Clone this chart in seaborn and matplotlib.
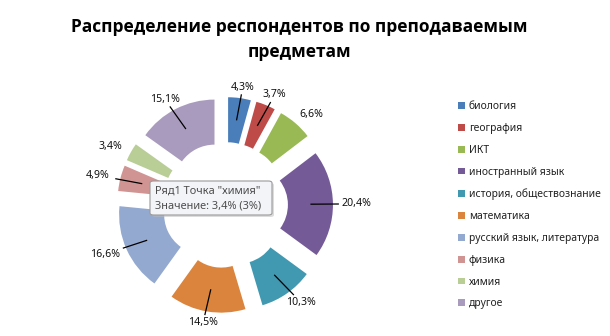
import numpy as np
import matplotlib
matplotlib.use("Agg")
import matplotlib.pyplot as plt
import seaborn as sns
from matplotlib.patches import FancyBboxPatch

# ---------------- data ----------------
title_text = "Распределение респондентов по преподаваемым\nпредметам"
categories = ["биология", "география", "ИКТ", "иностранный язык",
              "история, обществознание", "математика",
              "русский язык, литература", "физика", "химия", "другое"]
values = [4.3, 3.7, 6.6, 20.4, 10.3, 14.5, 16.6, 4.9, 3.4, 15.1]
value_labels = [f"{v:.1f}%".replace(".", ",") for v in values]
palette_hex = ["#4A7EBB", "#BE4B48", "#98B954", "#755A98", "#4199B1",
               "#DB843D", "#93A9D0", "#D09493", "#B9CD96", "#A99BBD"]
tooltip_lines = ['Ряд1 Точка "химия"', "Значение: 3,4% (3%)"]
# labels that sit close to their slice and have no leader line
no_leader = {"ИКТ", "химия"}

# ---------------- style ----------------
sns.set_theme(style="white")
plt.rcParams["font.family"] = ["Noto Sans", "DejaVu Sans"]
colors = sns.color_palette(palette_hex)

W, H = 610, 336
fig = plt.figure(figsize=(W / 100, H / 100), dpi=100)
fig.patch.set_facecolor("white")

cx, cy, u = 225, 205, 85          # donut centre (px) and px per data unit
left, top, right, bottom = 40, 66, 410, 336
ax = fig.add_axes([left / W, (H - bottom) / H, (right - left) / W, (bottom - top) / H])

explode = 0.27
ring_w = 0.53
wedges, _ = ax.pie(values, colors=colors, startangle=90, counterclock=False,
                   radius=1.0, explode=[explode] * len(values),
                   wedgeprops=dict(width=ring_w, linewidth=0))
ax.set_xlim((left - cx) / u, (right - cx) / u)
ax.set_ylim((cy - bottom) / u, (cy - top) / u)
ax.set_aspect("equal")
ax.axis("off")

# data labels with leader lines
hw, hh = 0.21, 0.085
for w, lab, cat in zip(wedges, value_labels, categories):
    th = np.deg2rad((w.theta1 + w.theta2) / 2)
    c, s = np.cos(th), np.sin(th)
    wx, wy = w.center
    r_mid = 1.0 - ring_w / 2
    sx, sy = wx + r_mid * c, wy + r_mid * s
    lx, ly = 1.55 * c, 1.4 * s
    if cat not in no_leader:
        dx, dy = sx - lx, sy - ly
        t = min(hw / abs(dx) if dx else np.inf, hh / abs(dy) if dy else np.inf)
        ex, ey = lx + t * dx, ly + t * dy
        ax.plot([sx, ex], [sy, ey], color="black", lw=0.9, solid_capstyle="butt")
    ax.text(lx, ly, lab, ha="center", va="center", fontsize=7.6, color="#111111")

# title
title_lines = title_text.split("\n")
for line, ypx in zip(title_lines, [27, 52]):
    fig.text(299 / W, 1 - ypx / H, line, ha="center", va="center",
             fontsize=12.5, fontweight="bold", color="black",
             family=["Open Sans", "DejaVu Sans"])

# legend
leg = fig.legend(wedges, categories, loc="upper left",
                 bbox_to_anchor=(458 / W, 1 - 101 / H), frameon=False,
                 fontsize=7.45, handlelength=0.65, handleheight=0.65,
                 handletextpad=0.4, labelspacing=1.05, borderpad=0,
                 borderaxespad=0)
for t in leg.get_texts():
    t.set_color("#222222")

# tooltip
x0, y0, x1, y1 = 150, 181, 272, 215
shadow = FancyBboxPatch(((x0 + 2) / W, 1 - (y1 + 2) / H), (x1 - x0) / W, (y1 - y0) / H,
                        boxstyle="round,pad=0,rounding_size=0.006",
                        transform=fig.transFigure, facecolor="#bbbbbb",
                        edgecolor="none", alpha=0.5, zorder=5)
box = FancyBboxPatch((x0 / W, 1 - y1 / H), (x1 - x0) / W, (y1 - y0) / H,
                     boxstyle="round,pad=0,rounding_size=0.006",
                     transform=fig.transFigure, facecolor="#f3f4f8",
                     edgecolor="#9a9a9a", linewidth=0.8, zorder=6)
fig.add_artist(shadow)
fig.add_artist(box)
fig.text(155 / W, 1 - 191 / H, tooltip_lines[0], ha="left", va="center",
         fontsize=7.9, color="#4d4d4d", zorder=7)
fig.text(155 / W, 1 - 206 / H, tooltip_lines[1], ha="left", va="center",
         fontsize=7.9, color="#4d4d4d", zorder=7)

fig.savefig("out.png", dpi=100, facecolor="white")
